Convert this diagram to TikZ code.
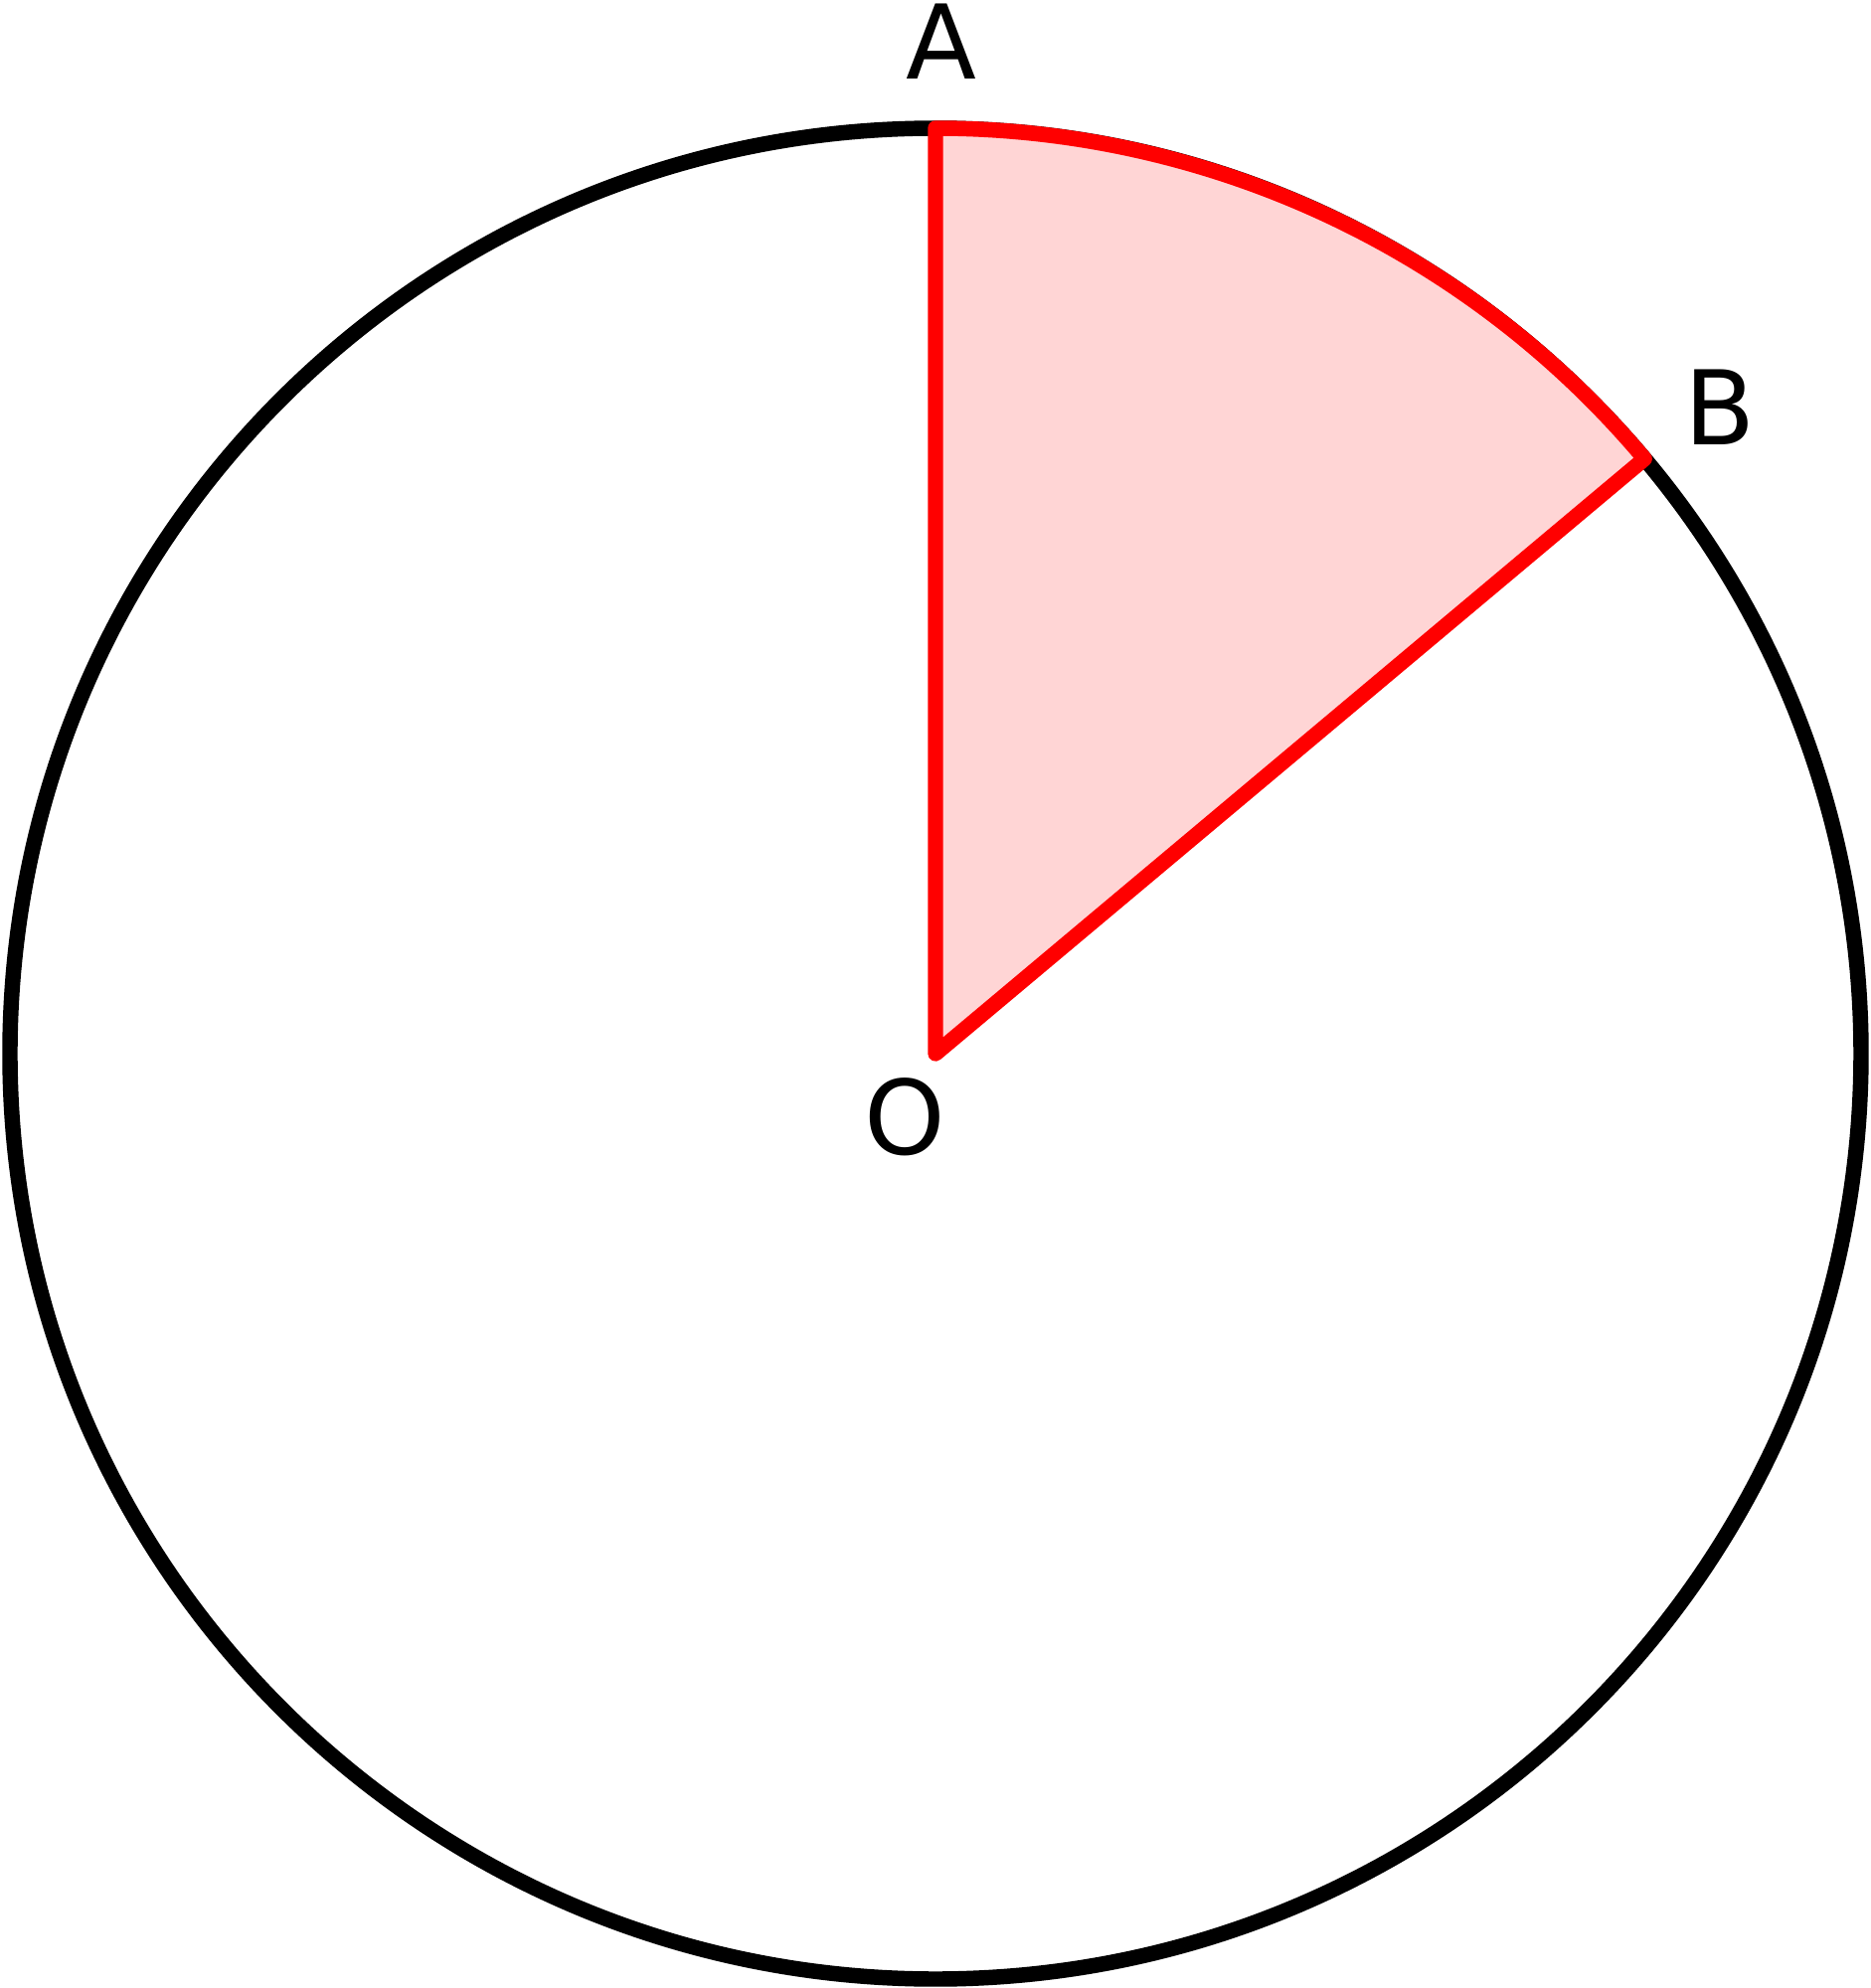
\documentclass[tikz,border=0pt]{standalone}
\usepackage{fontspec}
\setmainfont{DejaVu Sans}
\usetikzlibrary{positioning}

\definecolor{sectorfill}{RGB}{255,213,213}

\begin{document}
\begin{tikzpicture}[rim/.style={draw=black, line width=4.4pt},
                    sector/.style={draw=red, fill=sectorfill, line width=4.4pt, line join=round, line cap=round},
                    ptlabel/.style={anchor=base, inner sep=0pt, font=\fontsize{29.5}{31}\selectfont}]
        \useasboundingbox (-9.41,-9.40) rectangle (9.40,10.60);
        \coordinate (O) at (0,0);
        \coordinate (A) at (90:9.31);
        \coordinate (B) at (40:9.31);
        \draw[rim] (O) circle[radius=9.31];
        \draw[sector] (O) -- (A) arc[start angle=90, end angle=40, radius=9.31] -- cycle;
        \draw (0.06,9.80) node[ptlabel] (lA) {A}
              (7.89,6.12) node[ptlabel] (lB) {B}
              (-0.31,-1.01) node[ptlabel] (lO) {O};
    \end{tikzpicture}
\end{document}
